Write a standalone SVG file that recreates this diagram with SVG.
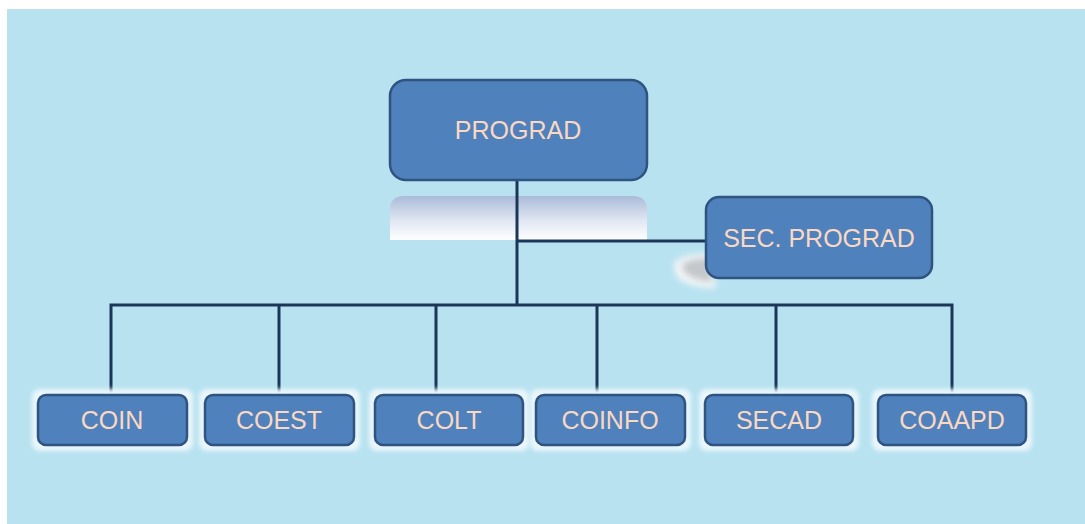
<svg xmlns="http://www.w3.org/2000/svg" width="1085" height="524" viewBox="0 0 1085 524">
<defs>
<style>
.box{fill:#4f81bd;stroke:#2f5480;stroke-width:2.5}
.lbl{font-family:"Liberation Sans",Arial,sans-serif;font-size:25px;fill:#fbd8c2;text-anchor:middle;dominant-baseline:central}
.conn{stroke:#1b3658;stroke-width:3;fill:none}
.glow{fill:#eaf6fb;filter:url(#blur)}
</style>
<linearGradient id="refl" x1="0" y1="0" x2="0" y2="1">
<stop offset="0" stop-color="#aabbd9"/>
<stop offset="0.55" stop-color="#dfe6f2"/>
<stop offset="1" stop-color="#ffffff"/>
</linearGradient>
<filter id="blur" x="-20%" y="-40%" width="140%" height="180%"><feGaussianBlur stdDeviation="2"/></filter>
<filter id="shadow" x="-50%" y="-50%" width="200%" height="200%"><feGaussianBlur stdDeviation="3"/></filter>
</defs>
<rect x="0" y="0" width="1085" height="524" fill="#ffffff"/>
<rect x="7" y="9" width="1078" height="515" fill="#b8e2f0"/>

<path d="M390 240 V210 Q390 196 404 196 H633 Q647 196 647 210 V240 Z" fill="url(#refl)"/>
<path d="M674 262 Q690 252 710 254 L716 288 Q688 288 676 276 Z" fill="#f4f6f8" filter="url(#shadow)"/>
<path d="M682 264 Q695 257 710 258 L712 282 Q692 280 684 272 Z" fill="#b0b4b8" opacity="0.7" filter="url(#shadow)"/>

<g id="connectors">
<line class="conn" x1="517" y1="180" x2="517" y2="305"/>
<line class="conn" x1="517" y1="241" x2="706" y2="241"/>
<polyline class="conn" points="111,395 111,305 952,305 952,395"/>
<line class="conn" x1="279" y1="305" x2="279" y2="395"/>
<line class="conn" x1="436" y1="305" x2="436" y2="395"/>
<line class="conn" x1="597" y1="305" x2="597" y2="395"/>
<line class="conn" x1="776" y1="305" x2="776" y2="395"/>
</g>

<g id="prograd">
<rect class="box" x="390" y="80" width="257" height="100" rx="16"/>
<text class="lbl" x="518" y="130">PROGRAD</text>
</g>
<g id="sec-prograd">
<rect class="box" x="706" y="197" width="226" height="81" rx="13"/>
<text class="lbl" x="819" y="238">SEC. PROGRAD</text>
</g>
<g id="coin">
<rect class="glow" x="32" y="389" width="161" height="62" rx="8"/>
<rect class="box" x="38" y="395" width="149" height="50" rx="8"/>
<text class="lbl" x="112" y="420">COIN</text>
</g>
<g id="coest">
<rect class="glow" x="199" y="389" width="161" height="62" rx="8"/>
<rect class="box" x="205" y="395" width="149" height="50" rx="8"/>
<text class="lbl" x="279" y="420">COEST</text>
</g>
<g id="colt">
<rect class="glow" x="369" y="389" width="160" height="62" rx="8"/>
<rect class="box" x="375" y="395" width="148" height="50" rx="8"/>
<text class="lbl" x="449" y="420">COLT</text>
</g>
<g id="coinfo">
<rect class="glow" x="530" y="389" width="161" height="62" rx="8"/>
<rect class="box" x="536" y="395" width="149" height="50" rx="8"/>
<text class="lbl" x="610" y="420">COINFO</text>
</g>
<g id="secad">
<rect class="glow" x="699" y="389" width="160" height="62" rx="8"/>
<rect class="box" x="705" y="395" width="148" height="50" rx="8"/>
<text class="lbl" x="779" y="420">SECAD</text>
</g>
<g id="coaapd">
<rect class="glow" x="872" y="389" width="160" height="62" rx="8"/>
<rect class="box" x="878" y="395" width="148" height="50" rx="8"/>
<text class="lbl" x="952" y="420">COAAPD</text>
</g>
</svg>
